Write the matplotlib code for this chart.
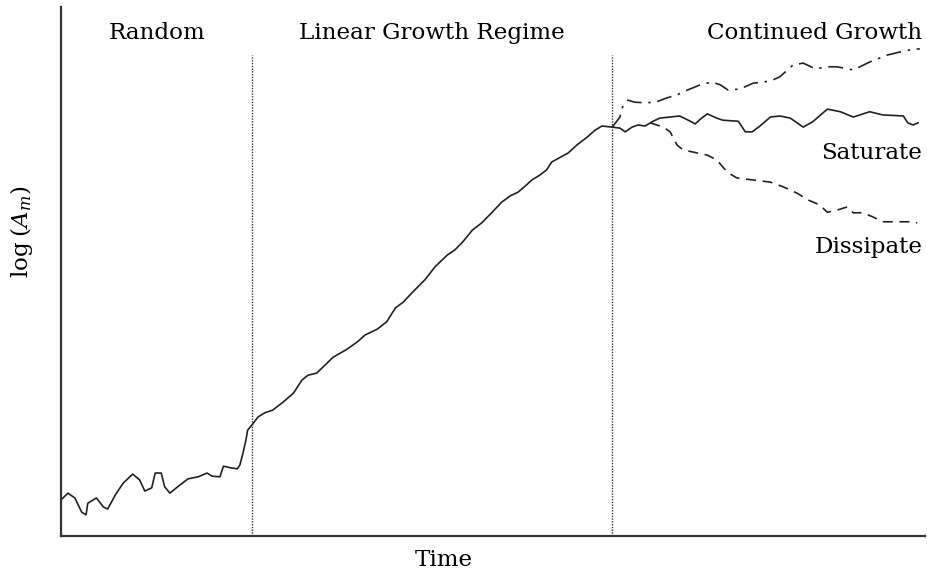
import matplotlib
matplotlib.use("Agg")
import matplotlib.pyplot as plt

plt.rcParams['font.family'] = ['DejaVu Serif']
plt.rcParams['mathtext.fontset'] = 'dejavuserif'

# amplitude history before the split (time, log amplitude)
t_main = [0, 0.8, 1.6, 2.4, 2.9, 3.1, 4.1, 4.9, 5.4, 6.3, 7.2, 8.3, 9.1, 9.7,
          10.5, 10.9, 11.6, 12.0, 12.6, 13.5, 14.7, 15.9, 16.9, 17.5, 18.4,
          18.8, 19.6, 20.4, 20.7, 21.1, 21.4, 21.6, 22.2, 22.8, 23.6, 24.5,
          25.7, 26.9, 27.9, 28.6, 29.6, 30.3, 31.5, 33.1, 34.3, 35.2, 36.6,
          37.7, 38.7, 39.6, 40.7, 42.1, 43.3, 44.7, 45.6, 46.5, 47.6, 48.7,
          49.9, 51.0, 52.0, 52.9, 53.9, 54.5, 55.4, 56.2, 56.8, 57.8, 58.7,
          59.7, 60.9, 61.8, 62.6, 63.8]
a_main = [6.8, 8.1, 7.2, 4.5, 4.0, 6.2, 7.2, 5.5, 5.1, 7.8, 10.0, 11.7, 10.6,
          8.5, 9.1, 11.9, 11.9, 9.3, 8.1, 9.3, 10.8, 11.2, 11.9, 11.3, 11.2,
          13.2, 12.9, 12.7, 13.4, 15.9, 18.1, 20.0, 21.2, 22.5, 23.3, 23.8,
          25.3, 27.0, 29.5, 30.4, 30.8, 31.9, 33.8, 35.3, 36.7, 38.0, 39.1,
          40.5, 43.1, 44.2, 46.1, 48.4, 50.9, 53.1, 54.1, 55.6, 57.8, 59.2,
          61.2, 63.1, 64.3, 65.0, 66.4, 67.3, 68.2, 69.2, 70.7, 71.6, 72.4,
          73.9, 75.4, 76.7, 77.5, 77.3]

t_grow = [63.8, 64.7, 65.0, 65.6, 66.4, 67.6, 68.8, 70.1, 71.3, 72.5, 74.0,
          75.3, 76.3, 77.2, 78.6, 80.1, 82.1, 83.2, 84.7, 85.9, 87.3, 88.7,
          89.8, 91.7, 93.6, 95.6, 97.1, 98.3, 99.4]
a_grow = [77.3, 79.2, 81.1, 82.4, 82.0, 81.9, 82.0, 82.8, 83.4, 84.3, 85.3,
          85.8, 85.3, 84.3, 84.5, 85.6, 86.0, 86.8, 89.0, 89.4, 88.3, 88.7,
          88.7, 88.1, 89.6, 90.9, 91.5, 91.9, 92.1]

t_sat = [63.8, 64.7, 65.3, 66.1, 66.8, 67.6, 68.4, 69.3, 70.5, 71.6, 72.6,
         73.4, 74.0, 74.8, 75.9, 76.6, 78.4, 79.2, 80.0, 80.9, 82.1, 83.2,
         84.4, 85.9, 87.0, 88.7, 90.2, 91.7, 93.6, 95.1, 97.5, 98.0, 98.6, 99.2]
a_sat = [77.3, 77.1, 76.4, 77.3, 77.7, 77.5, 78.3, 79.0, 79.2, 79.4, 78.6,
         77.9, 78.8, 79.8, 79.0, 78.6, 78.4, 76.4, 76.4, 77.5, 79.2, 79.4,
         79.0, 77.3, 78.3, 80.7, 80.2, 79.2, 80.2, 79.6, 79.4, 78.1, 77.7, 78.1]

t_diss = [68.2, 69.7, 70.5, 71.3, 72.0, 73.1, 74.8, 75.9, 77.1, 78.2, 80.1,
          82.1, 83.6, 85.2, 86.5, 87.8, 88.7, 89.8, 91.0, 91.7, 92.8, 94.0,
          95.1, 96.8, 98.3, 99.1]
a_diss = [78.1, 77.3, 76.4, 73.9, 73.0, 72.6, 72.0, 71.1, 68.8, 67.7, 67.3,
          66.9, 66.0, 64.8, 63.5, 62.6, 61.2, 61.6, 62.2, 61.1, 61.1, 60.3,
          59.4, 59.4, 59.4, 59.2]

# regime boundaries
boundaries = [22.1, 63.8]

fig = plt.figure(figsize=(9.27, 5.75), dpi=100)
ax = fig.add_axes([61 / 927, 39 / 575, 864 / 927, 529 / 575])

ink = '#222222'
ax.plot(t_main, a_main, color=ink, lw=1.2)
ax.plot(t_sat, a_sat, color=ink, lw=1.2)
ax.plot(t_grow, a_grow, color=ink, lw=1.2, dashes=(9, 4, 1.5, 4))
ax.plot(t_diss, a_diss, color=ink, lw=1.2, dashes=(6, 4))

for b in boundaries:
    ax.plot([b, b], [0, 90.9], color='#333333', lw=1.0, dashes=(1, 1))

fs = 16.6
ax.text(11.1, 95.0, 'Random', ha='center', va='center', fontsize=fs)
ax.text(42.9, 95.0, 'Linear Growth Regime', ha='center', va='center', fontsize=fs)
ax.text(99.7, 95.0, 'Continued Growth', ha='right', va='center', fontsize=fs)
ax.text(99.7, 72.4, 'Saturate', ha='right', va='center', fontsize=fs)
ax.text(99.7, 54.6, 'Dissipate', ha='right', va='center', fontsize=fs)

ax.set_xlim(0, 100)
ax.set_ylim(0, 100)
ax.set_xticks([])
ax.set_yticks([])
for side in ['top', 'right']:
    ax.spines[side].set_visible(False)
for side in ['left', 'bottom']:
    ax.spines[side].set_color('#333333')
    ax.spines[side].set_linewidth(1.6)

ax.set_xlabel('Time', fontsize=fs)
ax.set_ylabel(r'log$\;(A_m)$', fontsize=fs)
ax.xaxis.set_label_coords(0.443, -0.024)
ax.yaxis.set_label_coords(-0.030, 0.575)

fig.savefig('out.png', dpi=100)
